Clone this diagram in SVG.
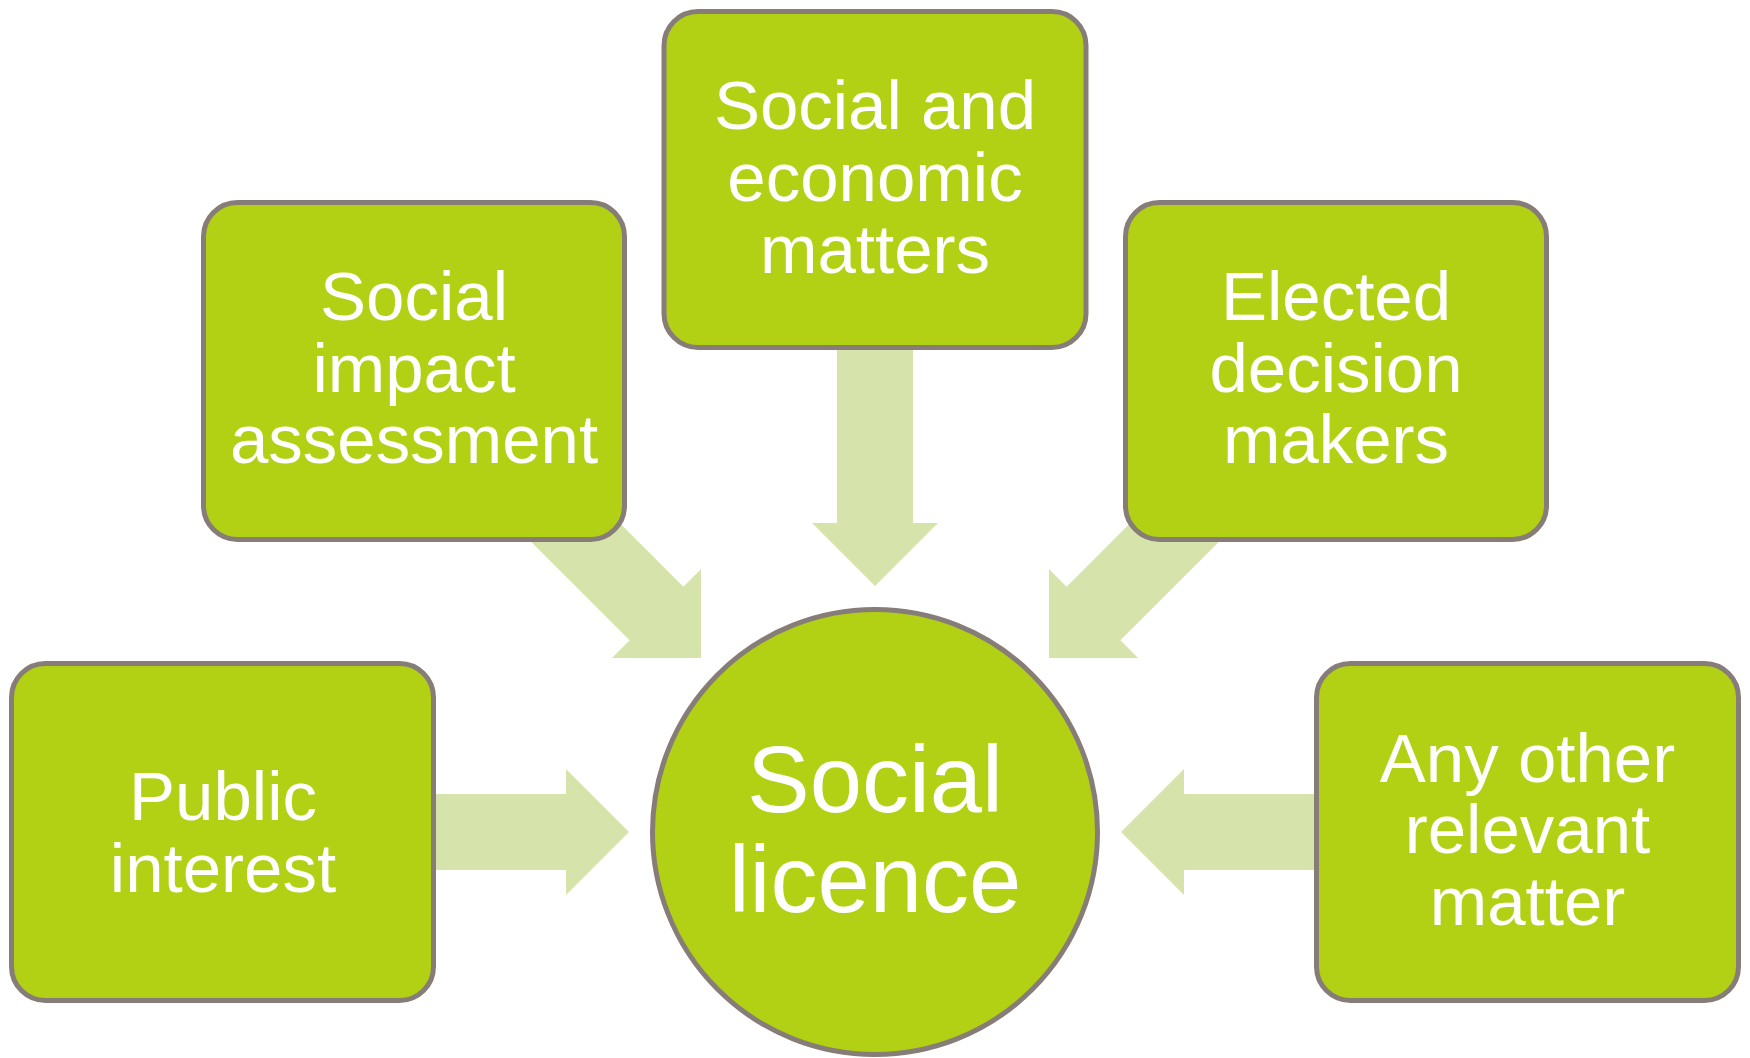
<svg xmlns="http://www.w3.org/2000/svg" xmlns:xlink="http://www.w3.org/1999/xlink" width="1750" height="1058" viewBox="0 0 1750 1058">
  <style>
    .box { fill: #b3d114; stroke: #877d78; stroke-width: 5; }
    .lbl { fill: #ffffff; font-family: "Liberation Sans", Arial, sans-serif; font-size: 69px; text-anchor: middle; }
    .big { font-size: 94px; }
    .arr { fill: #d6e4ab; }
  </style>
  <defs>
    <polygon id="arrow" class="arr" points="-500,-38 -309,-38 -309,-63 -246,0 -309,63 -309,38 -500,38"/>
  </defs>
  <rect width="1750" height="1058" fill="#ffffff"/>
  <g id="connectors">
    <use xlink:href="#arrow" href="#arrow" transform="translate(875 832)"/>
    <use xlink:href="#arrow" href="#arrow" transform="translate(875 832) rotate(45)"/>
    <use xlink:href="#arrow" href="#arrow" transform="translate(875 832) rotate(90)"/>
    <use xlink:href="#arrow" href="#arrow" transform="translate(875 832) rotate(135)"/>
    <use xlink:href="#arrow" href="#arrow" transform="translate(875 832) rotate(180)"/>
  </g>
  <g id="node-social-economic">
    <rect class="box" x="664" y="11.5" width="422" height="336" rx="34" ry="34"/>
    <text class="lbl" x="875" y="129">Social and</text>
    <text class="lbl" x="875" y="201">economic</text>
    <text class="lbl" x="875" y="273">matters</text>
  </g>
  <g id="node-social-impact">
    <rect class="box" x="203.5" y="202.5" width="421" height="337" rx="34" ry="34"/>
    <text class="lbl" x="414" y="320">Social</text>
    <text class="lbl" x="414" y="392">impact</text>
    <text class="lbl" x="414" y="463">assessment</text>
  </g>
  <g id="node-elected">
    <rect class="box" x="1125.5" y="202.5" width="421" height="337" rx="34" ry="34"/>
    <text class="lbl" x="1336" y="320">Elected</text>
    <text class="lbl" x="1336" y="392">decision</text>
    <text class="lbl" x="1336" y="463">makers</text>
  </g>
  <g id="node-public-interest">
    <rect class="box" x="11.5" y="663.5" width="422" height="337" rx="34" ry="34"/>
    <text class="lbl" x="223" y="820">Public</text>
    <text class="lbl" x="223" y="892">interest</text>
  </g>
  <g id="node-any-other">
    <rect class="box" x="1316.5" y="663.5" width="422" height="337" rx="34" ry="34"/>
    <text class="lbl" x="1527.5" y="782">Any other</text>
    <text class="lbl" x="1527.5" y="853">relevant</text>
    <text class="lbl" x="1527.5" y="925">matter</text>
  </g>
  <g id="node-social-licence">
    <circle class="box" cx="875" cy="832" r="222.5"/>
    <text class="lbl big" x="875" y="812">Social</text>
    <text class="lbl big" x="875" y="912">licence</text>
  </g>
</svg>
